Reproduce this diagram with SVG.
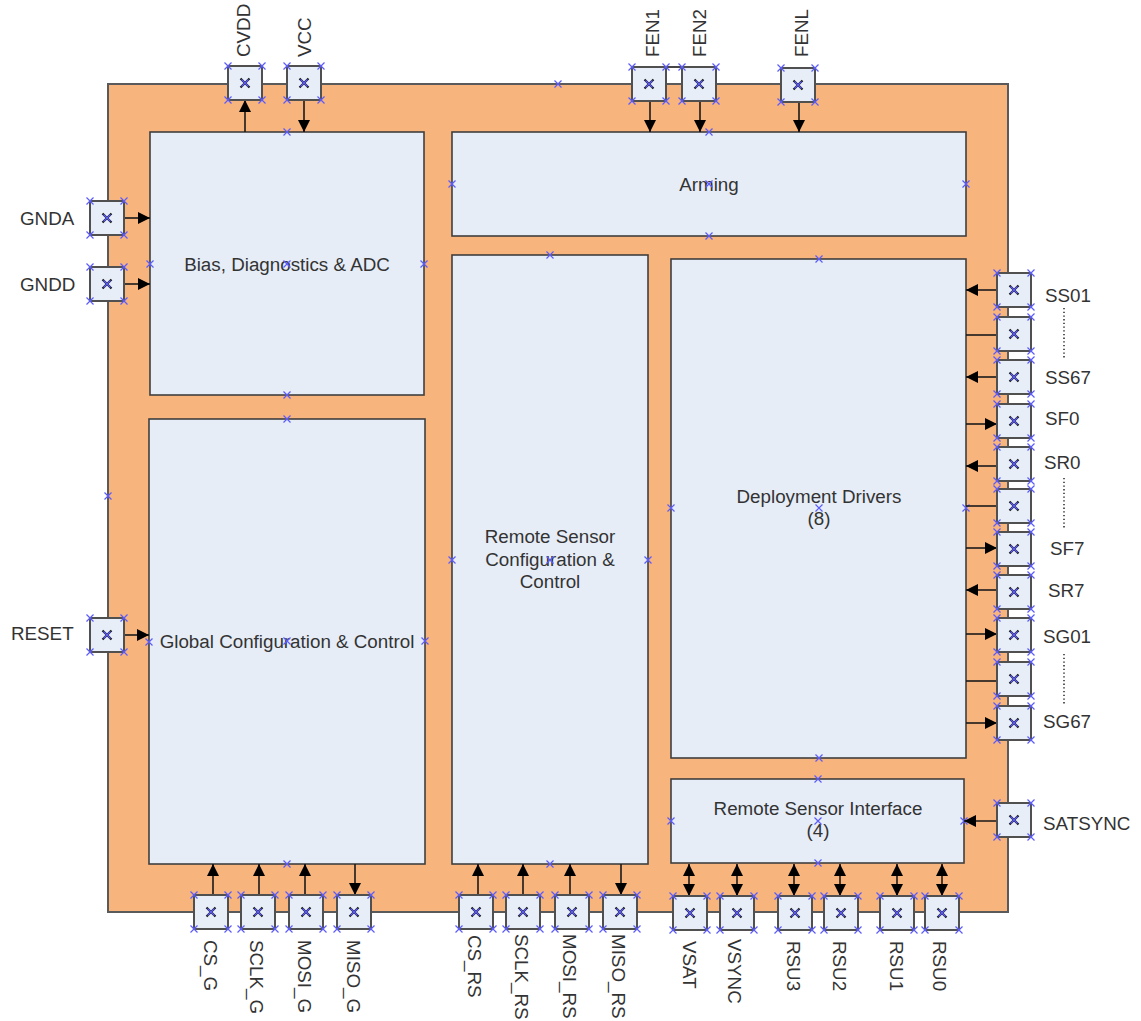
<svg xmlns="http://www.w3.org/2000/svg" xmlns:xlink="http://www.w3.org/1999/xlink" width="1141" height="1021" viewBox="0 0 1141 1021">
<style>
.frame{fill:#F8B47D;stroke:#5a5a5a;stroke-width:2}
.box{fill:#E6EDF7;stroke:#3f3f3f;stroke-width:1.6}
.pin{fill:#E8EEF7;stroke:#505050;stroke-width:2}
.t{font-family:"Liberation Sans",Arial,sans-serif;font-size:18.8px;fill:#333333}
.c{text-anchor:middle}
.w{stroke:#1a1a1a;stroke-width:1.6;fill:none}
.a{marker-end:url(#ah)}
.d{marker-end:url(#ah);marker-start:url(#ah)}
.dot{stroke:#333;stroke-width:1.6;stroke-dasharray:1.3 2.4;fill:none}
.cpx{stroke:#5b5bff;stroke-width:1.2;fill:none}
</style>
<defs>
<marker id="ah" markerUnits="userSpaceOnUse" markerWidth="13" markerHeight="12" refX="12" refY="6" orient="auto-start-reverse" viewBox="0 0 13 12">
<path d="M0,0 L12,6 L0,12 z" fill="#000"/>
</marker>
<path id="cp" class="cpx" d="M-3.5,-3.5L3.5,3.5M-3.5,3.5L3.5,-3.5"/>
<g id="pinShape">
<rect x="0" y="0" width="34" height="34" class="pin"/>
<path d="M12.5,12.5L21.5,21.5M12.5,21.5L21.5,12.5" stroke="#1a1a1a" stroke-width="2.2" fill="none"/>
<use href="#cp" x="17" y="17"/>
<use href="#cp" x="0" y="0"/>
<use href="#cp" x="34" y="0"/>
<use href="#cp" x="0" y="34"/>
<use href="#cp" x="34" y="34"/>
</g>
</defs>

<rect width="1141" height="1021" fill="#ffffff"/>

<g id="chip">
<rect class="frame" x="108" y="84" width="900" height="828"/>
<use href="#cp" x="558" y="84"/>
<use href="#cp" x="108" y="496"/>
</g>

<g id="bias">
<rect class="box" x="150" y="132" width="274" height="263"/>
<text class="t c" x="287" y="270.5">Bias, Diagnostics &amp; ADC</text>
<use href="#cp" x="287" y="132"/><use href="#cp" x="150" y="264"/><use href="#cp" x="424" y="264"/><use href="#cp" x="287" y="264"/><use href="#cp" x="287" y="395"/>
</g>

<g id="global">
<rect class="box" x="149" y="419" width="276" height="445"/>
<text class="t c" x="287" y="647.5">Global Configuration &amp; Control</text>
<use href="#cp" x="287" y="419"/><use href="#cp" x="149" y="642"/><use href="#cp" x="425" y="641"/><use href="#cp" x="287" y="641"/><use href="#cp" x="287" y="864"/>
</g>

<g id="arming">
<rect class="box" x="452" y="132" width="514" height="104"/>
<text class="t c" x="709" y="190.5">Arming</text>
<use href="#cp" x="709" y="132"/><use href="#cp" x="452" y="184"/><use href="#cp" x="966" y="184"/><use href="#cp" x="709" y="184"/><use href="#cp" x="709" y="236"/>
</g>

<g id="rsconfig">
<rect class="box" x="452" y="255" width="196" height="609"/>
<text class="t c" x="550" y="543">Remote Sensor</text>
<text class="t c" x="550" y="566">Configuration &amp;</text>
<text class="t c" x="550" y="588">Control</text>
<use href="#cp" x="550" y="255"/><use href="#cp" x="452" y="560"/><use href="#cp" x="648" y="560"/><use href="#cp" x="550" y="560"/><use href="#cp" x="550" y="864"/>
</g>

<g id="deploy">
<rect class="box" x="671" y="259" width="295" height="499"/>
<text class="t c" x="819" y="503">Deployment Drivers</text>
<text class="t c" x="819" y="525">(8)</text>
<use href="#cp" x="819" y="259"/><use href="#cp" x="671" y="508"/><use href="#cp" x="966" y="508"/><use href="#cp" x="819" y="508"/><use href="#cp" x="819" y="758"/>
</g>

<g id="rsi">
<rect class="box" x="671" y="779" width="293" height="84"/>
<text class="t c" x="818" y="815">Remote Sensor Interface</text>
<text class="t c" x="818" y="837">(4)</text>
<use href="#cp" x="818" y="779"/><use href="#cp" x="671" y="821"/><use href="#cp" x="964" y="821"/><use href="#cp" x="818" y="821"/><use href="#cp" x="818" y="863"/>
</g>

<g id="connectors">
<path class="w a" d="M245,132V100"/>
<path class="w a" d="M304,100V132"/>
<path class="w" d="M666,67H682" stroke="#666"/>
<path class="w a" d="M650,101V132"/>
<path class="w a" d="M700,101V132"/>
<path class="w a" d="M799,102V132"/>
<path class="w a" d="M124,218H150"/>
<path class="w a" d="M124,284H150"/>
<path class="w a" d="M124,635H149"/>
<path class="w a" d="M997,290H966"/>
<path class="w" d="M997,335H966"/>
<path class="w a" d="M997,377H966"/>
<path class="w a" d="M966,424H997"/>
<path class="w a" d="M997,466H966"/>
<path class="w" d="M997,506H966"/>
<path class="w a" d="M966,548H997"/>
<path class="w a" d="M997,590H966"/>
<path class="w a" d="M966,634H997"/>
<path class="w" d="M997,681H966"/>
<path class="w a" d="M966,723H997"/>
<path class="w a" d="M997,821H964"/>
<path class="w a" d="M213,895V864"/>
<path class="w a" d="M259,895V864"/>
<path class="w a" d="M305,895V864"/>
<path class="w a" d="M355,864V895"/>
<path class="w a" d="M478,895V864"/>
<path class="w a" d="M523,895V864"/>
<path class="w a" d="M570,895V864"/>
<path class="w a" d="M621,864V895"/>
<path class="w d" d="M689,864V896"/>
<path class="w d" d="M737,864V896"/>
<path class="w d" d="M794,864V896"/>
<path class="w d" d="M840,864V896"/>
<path class="w d" d="M897,864V896"/>
<path class="w d" d="M942,864V896"/>
<path class="dot" d="M1064,308V358"/>
<path class="dot" d="M1064,478V528"/>
<path class="dot" d="M1064,654V705"/>
</g>

<g id="pin-CVDD"><use href="#pinShape" x="228" y="66"/><text class="t" x="250" y="57" transform="rotate(-90 250 57)">CVDD</text></g>
<g id="pin-VCC"><use href="#pinShape" x="287" y="66"/><text class="t" x="311" y="57" transform="rotate(-90 311 57)">VCC</text></g>
<g id="pin-FEN1"><use href="#pinShape" x="632" y="67"/><text class="t" x="659" y="57" transform="rotate(-90 659 57)">FEN1</text></g>
<g id="pin-FEN2"><use href="#pinShape" x="682" y="67"/><text class="t" x="706" y="57" transform="rotate(-90 706 57)">FEN2</text></g>
<g id="pin-FENL"><use href="#pinShape" x="781" y="68"/><text class="t" x="808" y="57" transform="rotate(-90 808 57)">FENL</text></g>

<g id="pin-GNDA"><use href="#pinShape" x="90" y="201"/><text class="t" x="20" y="224.5">GNDA</text></g>
<g id="pin-GNDD"><use href="#pinShape" x="90" y="267"/><text class="t" x="20" y="290.5">GNDD</text></g>
<g id="pin-RESET"><use href="#pinShape" x="90" y="618"/><text class="t" x="11" y="640">RESET</text></g>

<g id="pin-SS01"><use href="#pinShape" x="997" y="273"/><text class="t" x="1045" y="301.5">SS01</text></g>
<g id="pin-SS2"><use href="#pinShape" x="997" y="317"/></g>
<g id="pin-SS67"><use href="#pinShape" x="997" y="360"/><text class="t" x="1045" y="383.5">SS67</text></g>
<g id="pin-SF0"><use href="#pinShape" x="997" y="404"/><text class="t" x="1045" y="424.5">SF0</text></g>
<g id="pin-SR0"><use href="#pinShape" x="997" y="447"/><text class="t" x="1044" y="468.5">SR0</text></g>
<g id="pin-SX"><use href="#pinShape" x="997" y="489"/></g>
<g id="pin-SF7"><use href="#pinShape" x="997" y="532"/><text class="t" x="1050" y="554.5">SF7</text></g>
<g id="pin-SR7"><use href="#pinShape" x="997" y="575"/><text class="t" x="1048" y="597">SR7</text></g>
<g id="pin-SG01"><use href="#pinShape" x="997" y="618"/><text class="t" x="1043" y="643">SG01</text></g>
<g id="pin-SGX"><use href="#pinShape" x="997" y="662"/></g>
<g id="pin-SG67"><use href="#pinShape" x="997" y="706"/><text class="t" x="1043" y="728">SG67</text></g>
<g id="pin-SATSYNC"><use href="#pinShape" x="997" y="803"/><text class="t" x="1043" y="830">SATSYNC</text></g>

<g id="pin-CS_G"><use href="#pinShape" x="194" y="895"/><text class="t" x="204" y="940" transform="rotate(90 204 940)">CS_G</text></g>
<g id="pin-SCLK_G"><use href="#pinShape" x="241" y="895"/><text class="t" x="250" y="940" transform="rotate(90 250 940)">SCLK_G</text></g>
<g id="pin-MOSI_G"><use href="#pinShape" x="289" y="895"/><text class="t" x="298" y="940" transform="rotate(90 298 940)">MOSI_G</text></g>
<g id="pin-MISO_G"><use href="#pinShape" x="337" y="895"/><text class="t" x="346.5" y="940" transform="rotate(90 346.5 940)">MISO_G</text></g>
<g id="pin-CS_RS"><use href="#pinShape" x="459" y="895"/><text class="t" x="468" y="935" transform="rotate(90 468 935)">CS_RS</text></g>
<g id="pin-SCLK_RS"><use href="#pinShape" x="506" y="895"/><text class="t" x="515" y="934" transform="rotate(90 515 934)">SCLK_RS</text></g>
<g id="pin-MOSI_RS"><use href="#pinShape" x="555" y="895"/><text class="t" x="563" y="934" transform="rotate(90 563 934)">MOSI_RS</text></g>
<g id="pin-MISO_RS"><use href="#pinShape" x="603" y="895"/><text class="t" x="612" y="934" transform="rotate(90 612 934)">MISO_RS</text></g>
<g id="pin-VSAT"><use href="#pinShape" x="673" y="896"/><text class="t" x="683" y="941" transform="rotate(90 683 941)">VSAT</text></g>
<g id="pin-VSYNC"><use href="#pinShape" x="720" y="896"/><text class="t" x="728" y="939" transform="rotate(90 728 939)">VSYNC</text></g>
<g id="pin-RSU3"><use href="#pinShape" x="778" y="896"/><text class="t" x="787" y="941" transform="rotate(90 787 941)">RSU3</text></g>
<g id="pin-RSU2"><use href="#pinShape" x="824" y="896"/><text class="t" x="833" y="941" transform="rotate(90 833 941)">RSU2</text></g>
<g id="pin-RSU1"><use href="#pinShape" x="880" y="896"/><text class="t" x="890" y="941" transform="rotate(90 890 941)">RSU1</text></g>
<g id="pin-RSU0"><use href="#pinShape" x="925" y="896"/><text class="t" x="933" y="941" transform="rotate(90 933 941)">RSU0</text></g>
</svg>
